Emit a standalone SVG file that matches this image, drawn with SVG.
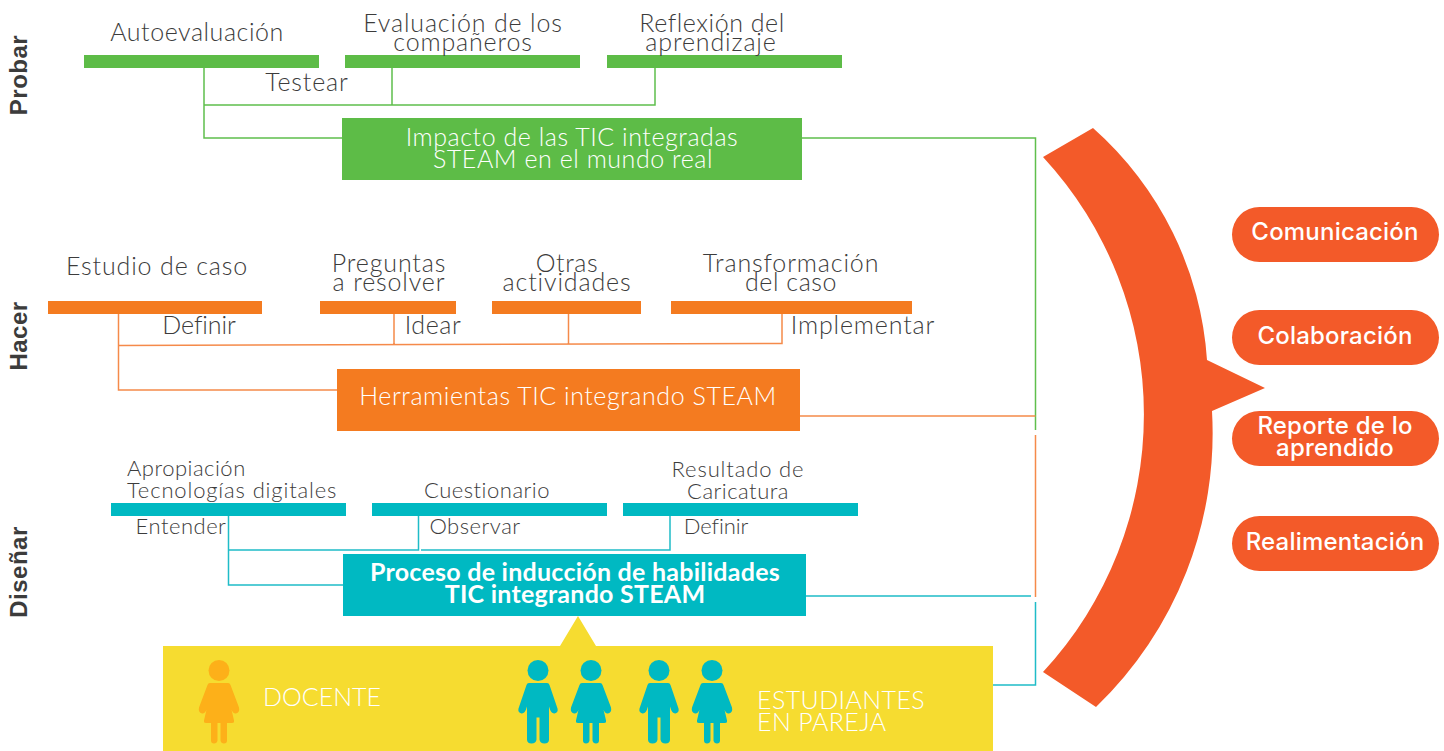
<svg xmlns="http://www.w3.org/2000/svg" xmlns:xlink="http://www.w3.org/1999/xlink" width="1444" height="751" viewBox="0 0 1444 751">
<style>
text{font-family:"Lato","Open Sans","Liberation Sans",sans-serif;font-weight:300;fill:#3c3c3c;font-size:25px;letter-spacing:.55px;text-anchor:middle}
.w{fill:#fff}
.s{font-size:22px;letter-spacing:.5px}
.b{font-weight:700;letter-spacing:.25px}
.c{font-size:25px;letter-spacing:.4px;text-anchor:start}
.st{text-anchor:start}
.x{letter-spacing:.85px}
.n{letter-spacing:-.1px}
.p{font-family:"Inter","Lato",sans-serif;font-weight:500;fill:#fff;font-size:24px;letter-spacing:.2px}
.h{font-family:"Liberation Sans",sans-serif;font-weight:700;font-size:24px;letter-spacing:.5px}
.l{fill:none;stroke-width:1.5}
.g{stroke:#5fbf4c}.o{stroke:#f58a4a}.t{stroke:#1fbcc8}
.pill{fill:#f35a29}
</style>
<defs>
<g id="woman"><ellipse cx="0" cy="0" rx="10.500" ry="10.500"/><path d="M-9 12.500H9Q11 12.500 11.500 14.500L20 37Q21 42 17 43Q14 43.500 12.500 39L15 50Q15.500 52.500 13 52.500H8V70Q8 73 5 73Q2 73 1.500 70V52.500H-1.500V70Q-2 73-5 73Q-8 73-8 70V52.500H-13Q-15.500 52.500-15 50L-12.500 39Q-14 43.500-17 43Q-21 42-20 37L-11.500 14.500Q-11 12.500-9 12.500Z"/></g>
<g id="man"><ellipse cx="0" cy="0" rx="10.500" ry="10.500"/><path d="M-9 12.500H9Q11 12.500 11.500 14.500L19.500 38Q20.500 42 16.500 43Q13 43.500 11 36V69Q11 73 6.500 73Q2 73 1.500 69V47H-1.500V69Q-2 73-6.500 73Q-11 73-11 69V36Q-13 43.500-16.500 43Q-20.500 42-19.500 38L-11.500 14.500Q-11 12.500-9 12.500Z"/></g>
</defs>

<g id="connectors">
<path class="l g" d="M204 68V138H342M204 105H655V68M392 68V105M802 138H1035.500V430"/>
<path class="l o" d="M118.500 314V390H337M118.500 345.500L782 343.500V314M394 314V344M568.500 314V344M800 416H1035.500M1035.500 435V597"/>
<path class="l t" d="M228.500 516V585H343M228.500 550H418.500V516M421 550H670V516M806 596H1031M1035.500 602V685H993"/>
</g>

<g id="probar"><text class="h" transform="translate(27 75) rotate(-90)">Probar</text></g>
<g id="hacer"><text class="h" transform="translate(27 336) rotate(-90)">Hacer</text></g>
<g id="disenar"><text class="h" transform="translate(27 572) rotate(-90)">Diseñar</text></g>

<g id="autoevaluacion"><rect x="84" y="55" width="235" height="13" fill="#5dbc47"/><text x="197" y="41">Autoevaluación</text></g>
<g id="evaluacion"><rect x="345" y="55" width="235" height="13" fill="#5dbc47"/><text class="x" x="463" y="32">Evaluación de los</text><text class="x" x="463" y="51">compañeros</text></g>
<g id="reflexion"><rect x="607" y="55" width="235" height="13" fill="#5dbc47"/><text x="712" y="32">Reflexión del</text><text class="x" x="711" y="51">aprendizaje</text></g>
<g id="testear"><text class="x" x="307" y="91">Testear</text></g>
<g id="impacto"><rect x="342" y="118" width="460" height="62" fill="#5dbc47"/><text class="w" x="572" y="146">Impacto de las TIC integradas</text><text class="w" x="573" y="168">STEAM en el mundo real</text></g>

<g id="estudio"><rect x="48" y="301" width="214" height="13" fill="#f47b20"/><text class="x" x="157" y="275">Estudio de caso</text></g>
<g id="preguntas"><rect x="320" y="301" width="136" height="13" fill="#f47b20"/><text class="x" x="389" y="272">Preguntas</text><text class="x" x="389" y="291">a resolver</text></g>
<g id="otras"><rect x="492" y="301" width="149" height="13" fill="#f47b20"/><text x="567" y="272">Otras</text><text class="x" x="567" y="291">actividades</text></g>
<g id="transformacion"><rect x="671" y="301" width="241" height="13" fill="#f47b20"/><text class="x" x="791" y="272">Transformación</text><text x="791" y="291">del caso</text></g>
<g id="definir1"><text class="n" x="199" y="334">Definir</text></g>
<g id="idear"><text x="433" y="334">Idear</text></g>
<g id="implementar"><text class="x" x="863" y="334">Implementar</text></g>
<g id="herramientas"><rect x="337" y="369" width="463" height="62" fill="#f47b20"/><text class="w" x="568" y="405">Herramientas TIC integrando STEAM</text></g>

<g id="apropiacion"><rect x="111" y="503" width="235" height="13" fill="#00b9c2"/><text class="s st" x="127" y="476">Apropiación</text><text class="s st x" x="127" y="498">Tecnologías digitales</text></g>
<g id="cuestionario"><rect x="372" y="503" width="235" height="13" fill="#00b9c2"/><text class="s" x="487" y="498">Cuestionario</text></g>
<g id="resultado"><rect x="623" y="503" width="235" height="13" fill="#00b9c2"/><text class="s x" x="738" y="477">Resultado de</text><text class="s" x="738" y="499">Caricatura</text></g>
<g id="entender"><text class="s" x="181" y="534">Entender</text></g>
<g id="observar"><text class="s" x="475" y="534">Observar</text></g>
<g id="definir2"><text class="s n" x="716" y="534">Definir</text></g>
<g id="proceso"><rect x="343" y="554" width="463" height="62" fill="#00b9c2"/><text class="w b" x="575" y="581">Proceso de inducción de habilidades</text><text class="w b" x="575" y="603">TIC integrando STEAM</text></g>

<g id="participantes">
<path d="M163 646H560L578 616L596 646H993V751H163Z" fill="#f6dc30"/>
<use xlink:href="#woman" href="#woman" x="219" y="670.500" fill="#fdb019"/>
<text class="w c" x="263" y="706" style="letter-spacing:0">DOCENTE</text>
<use xlink:href="#man" href="#man" x="538" y="670.500" fill="#00b9c2"/>
<use xlink:href="#woman" href="#woman" x="591" y="670.500" fill="#00b9c2"/>
<use xlink:href="#man" href="#man" x="659" y="670.500" fill="#00b9c2"/>
<use xlink:href="#woman" href="#woman" x="712" y="670.500" fill="#00b9c2"/>
<text class="w c" x="757" y="709">ESTUDIANTES</text>
<text class="w c" x="757" y="731">EN PAREJA</text>
</g>

<g id="arrow"><path d="M1093 128A340 340 0 0 1 1207 360L1265 388L1212 411A380 380 0 0 1 1096 707L1043 672A379 379 0 0 0 1043 157Z" fill="#f35a29"/></g>

<g id="comunicacion"><rect class="pill" x="1232" y="207" width="207" height="55" rx="27.500"/><text class="p" x="1335" y="240">Comunicación</text></g>
<g id="colaboracion"><rect class="pill" x="1232" y="310" width="207" height="55" rx="27.500"/><text class="p" x="1335" y="344">Colaboración</text></g>
<g id="reporte"><rect class="pill" x="1232" y="411" width="207" height="55" rx="27.500"/><text class="p" x="1335" y="434">Reporte de lo</text><text class="p" x="1335" y="456">aprendido</text></g>
<g id="realimentacion"><rect class="pill" x="1232" y="516" width="207" height="55" rx="27.500"/><text class="p" x="1335" y="550">Realimentación</text></g>
</svg>
